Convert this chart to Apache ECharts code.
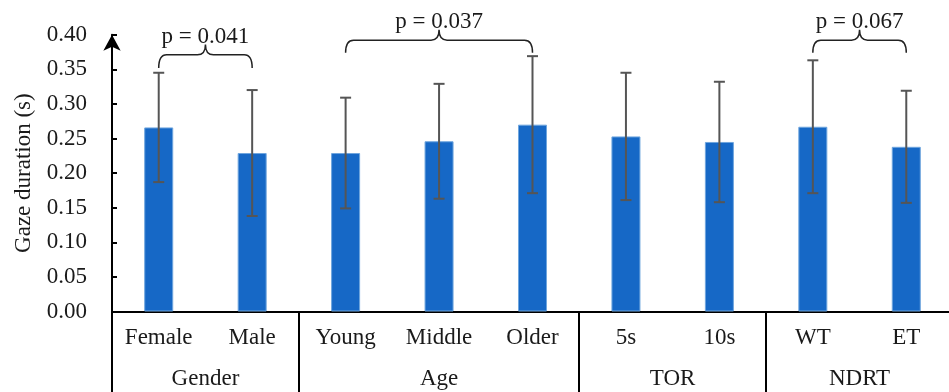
<!DOCTYPE html>
<html>
<head>
<meta charset="utf-8">
<script src="https://cdn.jsdelivr.net/npm/echarts@6/dist/echarts.min.js"></script>
<style>
html,body{margin:0;padding:0;background:#fff;}
#chart{width:949px;height:392px;}
</style>
</head>
<body>
<div id="chart"></div>
<script>
// ---- data ----
var categories = ['Female', 'Male', 'Young', 'Middle', 'Older', '5s', '10s', 'WT', 'ET'];
var means      = [0.266, 0.229, 0.229, 0.246, 0.270, 0.253, 0.245, 0.267, 0.238];
var sds        = [0.079, 0.091, 0.080, 0.083, 0.099, 0.092, 0.087, 0.096, 0.081];
var groupNames   = ['Gender', 'Age', 'TOR', 'NDRT'];
var groupCenters = [1, 3.5, 6, 8];
var groupDividers = [0, 2, 5, 7, 9];
var yTicks = [0, 0.05, 0.10, 0.15, 0.20, 0.25, 0.30, 0.35, 0.40];
var braceStart = [0, 2, 7];
var braceEnd   = [1, 4, 8];
var braceLineY = [0.371, 0.392, 0.392];
var braceEndY  = [0.352, 0.374, 0.374];
var braceCuspY = [0.386, 0.407, 0.407];
var pLabelY    = [0.397, 0.419, 0.419];
var pLabels    = ['p = 0.041', 'p = 0.037', 'p = 0.067'];

var FONT = 'Liberation Serif';
var chart = echarts.init(document.getElementById('chart'));

var errData = categories.map(function (c, i) { return [i, means[i] - sds[i], means[i] + sds[i]]; });
var braceData = braceStart.map(function (s, i) {
  return [s, braceEnd[i], braceLineY[i], braceEndY[i], braceCuspY[i], pLabelY[i], i];
});

chart.setOption({
  animation: false,
  grid: { left: 112, right: -4, top: 34.7, bottom: 80.5, containLabel: false, outerBoundsMode: 'none' },
  xAxis: [
    {
      type: 'category',
      data: categories,
      position: 'bottom',
      axisLine: { show: true, lineStyle: { color: '#000', width: 2 } },
      axisTick: { show: false },
      axisLabel: { margin: 15, fontFamily: FONT, fontSize: 23, color: '#1a1a1a' }
    },
    {
      type: 'value',
      min: 0, max: 9,
      position: 'bottom',
      axisLine: { show: false },
      splitLine: { show: false },
      axisTick: { show: true, customValues: groupDividers, length: 82, lineStyle: { color: '#000', width: 2 } },
      axisLabel: {
        customValues: groupCenters, margin: 56, fontFamily: FONT, fontSize: 23, color: '#1a1a1a',
        formatter: function (v) { var k = groupCenters.indexOf(v); return k >= 0 ? groupNames[k] : ''; }
      }
    }
  ],
  yAxis: {
    type: 'value',
    min: 0, max: 0.4, interval: 0.05,
    name: 'Gaze duration (s)',
    nameLocation: 'middle',
    nameGap: 76,
    nameRotate: 90,
    nameTextStyle: { fontFamily: FONT, fontSize: 23, color: '#1a1a1a' },
    axisLine: { show: true, symbol: ['none', 'arrow'], symbolSize: [13, 16], symbolOffset: [0, 0], lineStyle: { color: '#000', width: 2 } },
    axisTick: { show: true, inside: true, length: 5, lineStyle: { color: '#000', width: 2 } },
    splitLine: { show: false },
    axisLabel: {
      margin: 25, fontFamily: FONT, fontSize: 23, color: '#1a1a1a',
      customValues: yTicks,
      formatter: function (v) { return v.toFixed(2); }
    }
  },
  series: [
    {
      type: 'bar',
      data: means,
      barWidth: 29,
      itemStyle: { color: '#1668C6', borderColor: '#6FA6DE', borderWidth: 1 }
    },
    {
      type: 'custom',
      data: errData,
      z: 5,
      renderItem: function (params, api) {
        var x = api.coord([api.value(0), 0])[0];
        var lo = api.coord([api.value(0), api.value(1)]);
        var hi = api.coord([api.value(0), api.value(2)]);
        var cw = 5.5;
        var st = { stroke: '#555', lineWidth: 2 };
        return {
          type: 'group',
          children: [
            { type: 'line', shape: { x1: x, y1: lo[1], x2: x, y2: hi[1] }, style: st },
            { type: 'line', shape: { x1: x - cw, y1: hi[1], x2: x + cw, y2: hi[1] }, style: st },
            { type: 'line', shape: { x1: x - cw, y1: lo[1], x2: x + cw, y2: lo[1] }, style: st }
          ]
        };
      }
    },
    {
      type: 'custom',
      data: braceData,
      clip: false,
      z: 6,
      renderItem: function (params, api) {
        var s = api.coord([api.value(0), api.value(2)]);
        var e = api.coord([api.value(1), api.value(2)]);
        var yEnd = api.coord([api.value(0), api.value(3)])[1];
        var yC = api.coord([api.value(0), api.value(4)])[1];
        var yT = api.coord([api.value(0), api.value(5)])[1];
        var x0 = s[0], x1 = e[0], yL = s[1], xm = (x0 + x1) / 2;
        var r = 8;
        var path = 'M' + x0 + ' ' + yEnd +
          ' Q' + x0 + ' ' + yL + ' ' + (x0 + r) + ' ' + yL +
          ' L' + (xm - r) + ' ' + yL +
          ' Q' + xm + ' ' + yL + ' ' + xm + ' ' + yC +
          ' Q' + xm + ' ' + yL + ' ' + (xm + r) + ' ' + yL +
          ' L' + (x1 - r) + ' ' + yL +
          ' Q' + x1 + ' ' + yL + ' ' + x1 + ' ' + yEnd;
        return {
          type: 'group',
          children: [
            { type: 'path', shape: { pathData: path }, style: { fill: null, stroke: '#222', lineWidth: 1.5 } },
            { type: 'text', x: xm, y: yT, style: { text: pLabels[api.value(6)], fontFamily: FONT, fontSize: 23, fill: '#1a1a1a', align: 'center', verticalAlign: 'middle' } }
          ]
        };
      }
    }
  ]
});
</script>
</body>
</html>
